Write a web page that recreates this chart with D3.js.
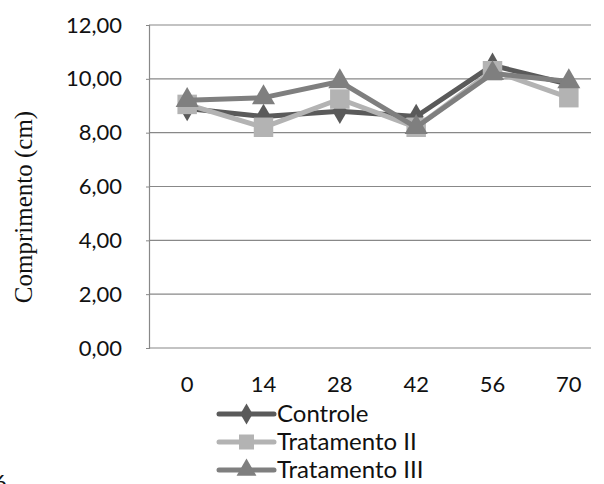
<!DOCTYPE html>
<html>
<head>
<meta charset="utf-8">
<script src="https://cdn.jsdelivr.net/npm/d3@7"></script>
<style>
  html, body { margin: 0; padding: 0; background: #fff; }
  svg { display: block; }
  .tick text { font-family: Lato, "Open Sans", sans-serif; }
</style>
</head>
<body>
<svg id="chart" width="604" height="484"></svg>
<script>
// Days after start (x categories)
const dias = ["0", "14", "28", "42", "56", "70"];
// Length in cm for each treatment
const controle     = [8.90, 8.60, 8.80, 8.60, 10.50, 9.80];
const tratamentoII = [9.05, 8.20, 9.25, 8.20, 10.30, 9.30];
const tratamentoIII= [9.20, 9.30, 9.90, 8.20, 10.20, 9.90];
const yTicks = [0, 2, 4, 6, 8, 10, 12];
const seriesNames = ["Controle", "Tratamento II", "Tratamento III"];

const series = [
  { name: seriesNames[0], values: controle,      color: "#5a5a5a", shape: "diamond" },
  { name: seriesNames[1], values: tratamentoII,  color: "#b3b3b3", shape: "square" },
  { name: seriesNames[2], values: tratamentoIII, color: "#7f7f7f", shape: "triangle" }
];

const svg = d3.select("#chart");
const plotLeft = 149, plotRight = 591, plotTop = 25, plotBottom = 348;

const x = d3.scaleBand().domain(dias).range([plotLeft, 607]).padding(0);
const y = d3.scaleLinear().domain([0, 12]).range([plotBottom, plotTop]);
const fmt = v => d3.format(".2f")(v).replace(".", ",");

// Horizontal gridlines
svg.append("g")
  .selectAll("line")
  .data(yTicks.filter(v => v > 0))
  .join("line")
  .attr("x1", plotLeft).attr("x2", plotRight)
  .attr("y1", d => y(d)).attr("y2", d => y(d))
  .attr("stroke", "#888").attr("stroke-width", 1.2);

// Y axis
const yAxis = svg.append("g")
  .attr("transform", `translate(${plotLeft},0)`)
  .call(d3.axisLeft(y).tickValues(yTicks).tickFormat(fmt).tickSize(3).tickPadding(24));
yAxis.select(".domain").attr("stroke", "#888").attr("stroke-width", 1.2);
yAxis.selectAll(".tick line").attr("stroke", "#888");
yAxis.selectAll(".tick text").attr("font-size", 22).attr("fill", "#111");

// X axis (no tick marks)
const xAxis = svg.append("g")
  .attr("transform", `translate(0,${plotBottom})`)
  .call(d3.axisBottom(x).tickSize(0).tickPadding(28));
xAxis.select(".domain").remove();
xAxis.selectAll(".tick text").attr("font-size", 22).attr("fill", "#111");
svg.append("line")
  .attr("x1", plotLeft).attr("x2", plotRight)
  .attr("y1", plotBottom).attr("y2", plotBottom)
  .attr("stroke", "#888").attr("stroke-width", 1.2);

// Y axis title
svg.append("text")
  .attr("transform", "translate(32,207) rotate(-90)")
  .attr("text-anchor", "middle")
  .attr("font-family", "'Liberation Serif', 'Times New Roman', serif")
  .attr("font-size", 25)
  .attr("fill", "#111")
  .text("Comprimento (cm)");

const symbolFor = (shape, size) => {
  const t = shape === "diamond" ? d3.symbolDiamond : shape === "square" ? d3.symbolSquare : d3.symbolTriangle;
  return d3.symbol().type(t).size(size)();
};

const line = d3.line()
  .x((d, i) => x(dias[i]) + x.bandwidth() / 2)
  .y(d => y(d));

// Series lines and markers
series.forEach(s => {
  const g = svg.append("g");
  g.append("path")
    .attr("d", line(s.values))
    .attr("fill", "none")
    .attr("stroke", s.color)
    .attr("stroke-width", 5)
    .attr("stroke-linejoin", "round")
    .attr("stroke-linecap", "round");
  g.selectAll("path.m")
    .data(s.values)
    .join("path")
    .attr("class", "m")
    .attr("d", symbolFor(s.shape, s.shape === "square" ? 380 : s.shape === "triangle" ? 230 : 190))
    .attr("transform", (d, i) => `translate(${x(dias[i]) + x.bandwidth() / 2},${y(d)})`)
    .attr("fill", s.color);
});

// Legend
const legend = svg.append("g");
series.forEach((s, i) => {
  const cy = 414 + i * 28;
  legend.append("line")
    .attr("x1", 219).attr("x2", 274)
    .attr("y1", cy).attr("y2", cy)
    .attr("stroke", s.color).attr("stroke-width", 5)
    .attr("stroke-linecap", "round");
  legend.append("path")
    .attr("d", symbolFor(s.shape, s.shape === "square" ? 225 : s.shape === "triangle" ? 170 : 130))
    .attr("transform", `translate(246.5,${cy})`)
    .attr("fill", s.color);
  legend.append("text")
    .attr("x", 277).attr("y", cy)
    .attr("dy", "0.34em")
    .attr("font-family", "Lato, 'Open Sans', sans-serif")
    .attr("font-size", 24)
    .attr("fill", "#111")
    .text(s.name);
});

// Page number fragment at the lower-left corner
svg.append("text")
  .attr("x", -6).attr("y", 490)
  .attr("font-family", "Lato, sans-serif")
  .attr("font-size", 22)
  .attr("fill", "#111")
  .text("6");
</script>
</body>
</html>
